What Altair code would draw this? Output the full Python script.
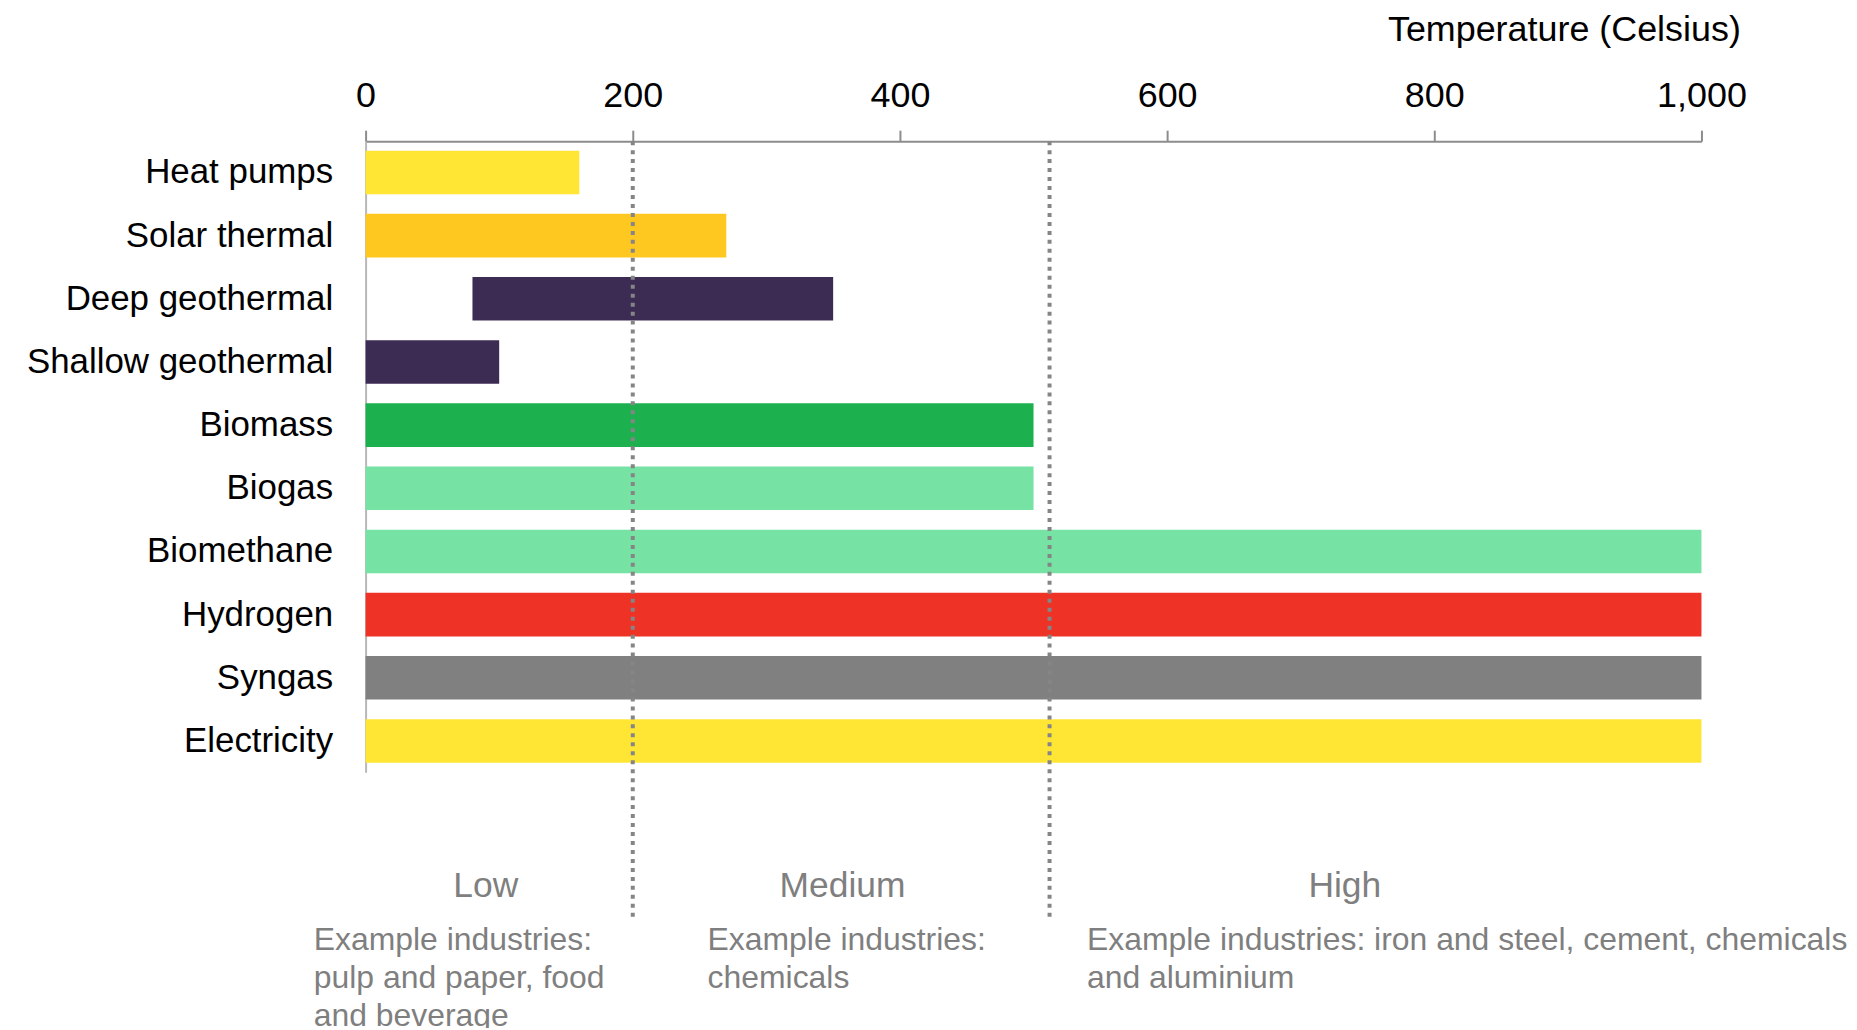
import altair as alt
import pandas as pd

techs = ["Heat pumps", "Solar thermal", "Deep geothermal", "Shallow geothermal",
         "Biomass", "Biogas", "Biomethane", "Hydrogen", "Syngas", "Electricity"]
starts = [0, 0, 80, 0, 0, 0, 0, 0, 0, 0]
ends = [160, 270, 350, 100, 500, 500, 1000, 1000, 1000, 1000]
colors = ["#FFE635", "#FFC820", "#3C2B52", "#3C2B52", "#1DB04F",
          "#76E2A3", "#76E2A3", "#EE3226", "#808080", "#FFE635"]

tick_values = [0, 200, 400, 600, 800, 1000]
boundaries = [200, 512]

band_names = ["Low", "Medium", "High"]
band_centers = [90, 357, 733]
example_texts = ["Example industries:\npulp and paper, food\nand beverage",
                 "Example industries:\nchemicals",
                 "Example industries: iron and steel, cement, chemicals\nand aluminium"]
example_left = [-38.8, 256, 540]

FONT = "Liberation Sans"

bars_df = pd.DataFrame({"tech": techs, "start": starts, "end": ends, "color": colors})
rules_df = pd.DataFrame({"x": boundaries})
bands_df = pd.DataFrame({"name": band_names, "x": band_centers})
ex_df = pd.DataFrame({"text": example_texts, "x": example_left})

xscale = alt.Scale(domain=[0, 1000], nice=False)

bars = alt.Chart(bars_df).mark_bar().encode(
    x=alt.X("start:Q", scale=xscale,
            axis=alt.Axis(orient="top", values=tick_values, format=",d",
                          domainColor="#8c8c8c", domainWidth=2,
                          tickColor="#8c8c8c", tickWidth=2, tickSize=11,
                          labelFontSize=36, labelColor="black", labelPadding=24,
                          labelBaseline="alphabetic", labelFlush=False, grid=False,
                          title="Temperature (Celsius)", titleFontSize=36,
                          titleFontWeight="normal", titleColor="black",
                          titleX=1379, titleY=-101, titleAlign="right",
                          titleBaseline="alphabetic")),
    x2="end:Q",
    y=alt.Y("tech:N", sort=techs,
            scale=alt.Scale(paddingInner=0.31, paddingOuter=0.15),
            axis=alt.Axis(title=None, ticks=False, tickSize=0, domainColor="#b8b8b8",
                          domainWidth=2, labelFontSize=35, labelColor="black",
                          labelPadding=33, labelLimit=0)),
    color=alt.Color("color:N", scale=None),
)

rules = alt.Chart(rules_df).mark_rule(color="#858585", strokeWidth=4, strokeDash=[4, 5]).encode(
    x=alt.X("x:Q", scale=xscale),
    y=alt.value(0),
    y2=alt.value(778),
)

band_text = alt.Chart(bands_df).mark_text(
    fontSize=35.5, color="#7f7f7f", align="center", baseline="alphabetic", font=FONT
).encode(
    x=alt.X("x:Q", scale=xscale),
    y=alt.value(758),
    text="name:N",
)

ex_text = alt.Chart(ex_df).mark_text(
    fontSize=32, color="#7f7f7f", align="left", baseline="alphabetic",
    lineBreak="\n", lineHeight=38.4, font=FONT
).encode(
    x=alt.X("x:Q", scale=xscale),
    y=alt.value(811),
    text="text:N",
)

chart = alt.layer(bars, rules, band_text, ex_text).properties(
    width=1340, height=633,
    autosize=alt.AutoSizeParams(type="none"),
    padding={"left": 358.7, "top": 132, "right": 148, "bottom": 255},
).configure(font=FONT).configure_view(stroke=None)

chart.save("out.html", embed_options={"renderer": "svg", "actions": False})
